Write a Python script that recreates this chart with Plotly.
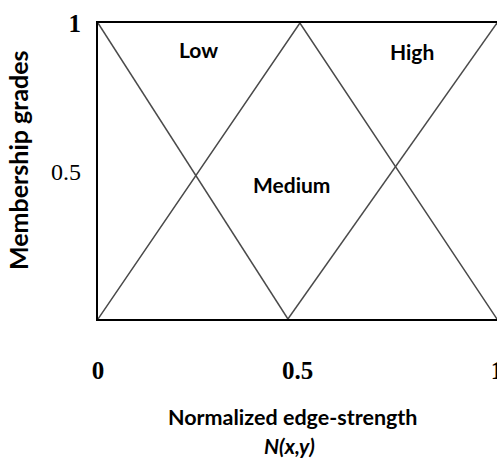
import plotly.graph_objects as go

# Membership functions (normalized edge-strength vs membership grade)
low_x = [0.0, 0.476]
low_y = [1.0, 0.0]
medium_x = [0.0, 0.506, 1.0]
medium_y = [0.0, 1.0, 0.0]
high_x = [0.476, 1.0]
high_y = [0.0, 1.0]

x_tickvals = [0, 0.5, 1]
x_ticktext = ["<b>0</b>", "<b>0.5</b>", "<b>1</b>"]
y_tickvals = [0.5, 1]
y_ticktext = ["<span style='font-size:24px'>0.5</span>", "<b>1</b>"]

set_labels = ["Low", "Medium", "High"]
set_label_x = [0.251, 0.486, 0.787]
set_label_y = [0.909, 0.453, 0.905]

line_style = dict(color="#4a4a4a", width=1.5)
fig = go.Figure()
fig.add_trace(go.Scatter(x=low_x, y=low_y, mode="lines", line=line_style, name="Low"))
fig.add_trace(go.Scatter(x=medium_x, y=medium_y, mode="lines", line=line_style, name="Medium"))
fig.add_trace(go.Scatter(x=high_x, y=high_y, mode="lines", line=line_style, name="High"))

sans = "Lato"
for t, xx, yy in zip(set_labels, set_label_x, set_label_y):
    fig.add_annotation(x=xx, y=yy, xref="paper", yref="paper", text=f"<b>{t}</b>", showarrow=False,
                       xanchor="center", yanchor="middle",
                       font=dict(family=sans, size=21, color="#000"))

fig.add_annotation(x=0.489, y=-0.331, xref="paper", yref="paper", text="<b>Normalized edge-strength</b>",
                   showarrow=False, xanchor="center", yanchor="middle",
                   font=dict(family=sans, size=21.5, color="#000"))
fig.add_annotation(x=0.479, y=-0.426, xref="paper", yref="paper", text="<b><i>N(x,y)</i></b>",
                   showarrow=False, xanchor="center", yanchor="middle",
                   font=dict(family=sans, size=21, color="#000"))
fig.add_annotation(x=-0.2005, y=0.537, xref="paper", yref="paper", text="<b>Membership grades</b>",
                   showarrow=False, textangle=-90, xanchor="center", yanchor="middle",
                   font=dict(family=sans, size=25, color="#000"))

fig.update_layout(
    width=497, height=468,
    margin=dict(l=98, r=0, t=23, b=149),
    paper_bgcolor="white", plot_bgcolor="white",
    showlegend=False,
    xaxis=dict(range=[0, 1], tickvals=x_tickvals, ticktext=x_ticktext, showgrid=False, zeroline=False,
               showline=True, linecolor="black", linewidth=2, mirror=True, ticks="",
               ticklabelstandoff=28, ticklabeloverflow="allow", automargin=False,
               tickfont=dict(family="Liberation Serif", size=25, color="#000")),
    yaxis=dict(range=[0, 1], tickvals=y_tickvals, ticktext=y_ticktext, showgrid=False, zeroline=False,
               showline=True, linecolor="black", linewidth=2, mirror=False, ticks="",
               ticklabelstandoff=10, ticklabeloverflow="allow", automargin=False,
               tickfont=dict(family="Liberation Serif", size=25, color="#000")),
)

fig.write_html("out.html", config={"displayModeBar": False},
               post_script="document.body.style.margin='0';")
